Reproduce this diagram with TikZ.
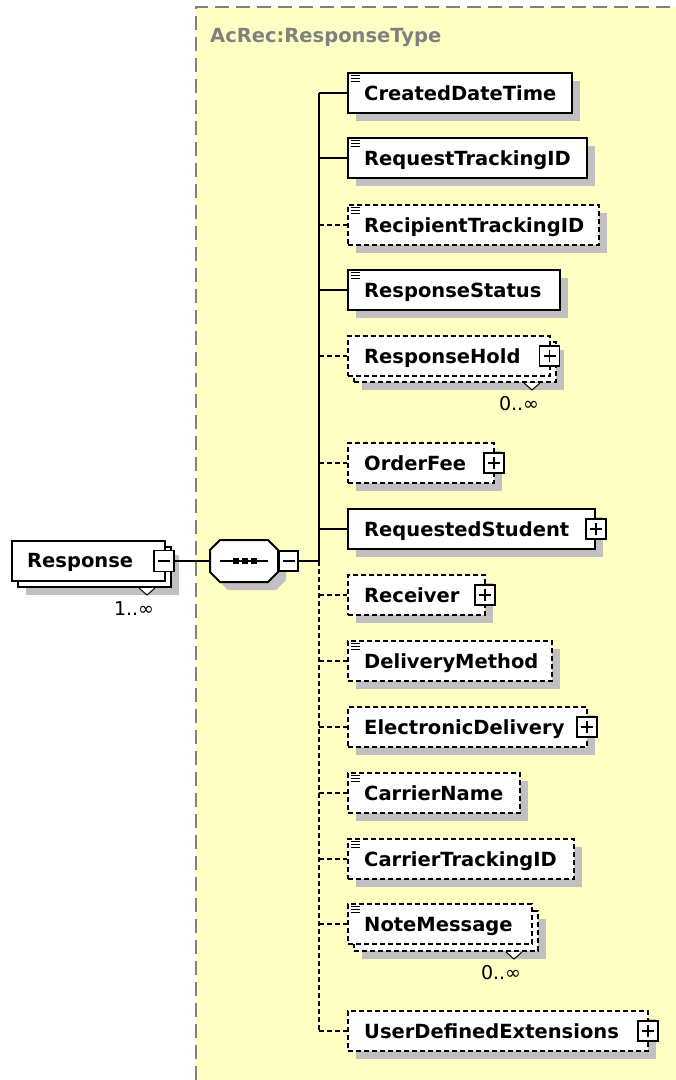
\documentclass[tikz,border=0pt]{standalone}
\usepackage{fontspec}
\setmainfont{DejaVu Sans}
\usetikzlibrary{shadows}
\definecolor{bgyellow}{RGB}{255,255,196}
\definecolor{shgray}{RGB}{192,192,192}
\definecolor{lblgray}{RGB}{128,128,128}
\tikzset{
  ebase/.style={rectangle, draw=black, fill=white, line width=2pt, inner sep=0pt},
  dashbox/.style={dash pattern=on 5pt off 3pt},
  shad/.style={drop shadow={shadow xshift=8pt, shadow yshift=-8pt, fill=shgray, opacity=1}},
  etext/.style={font=\fontsize{19.5}{22}\selectfont\bfseries, anchor=base west, inner sep=0pt},
  multtext/.style={font=\fontsize{19}{22}\selectfont, inner sep=0pt},
  pmbox/.style={rectangle, draw=black, fill=white, line width=1.6pt, minimum width=20pt, minimum height=20pt, inner sep=0pt},
  plusbox/.style={pmbox, path picture={\draw[line width=1.5pt]
      ([xshift=-6pt]path picture bounding box.center) -- ([xshift=6pt]path picture bounding box.center)
      ([yshift=-6pt]path picture bounding box.center) -- ([yshift=6pt]path picture bounding box.center);}},
  minusbox/.style={pmbox, path picture={\draw[line width=1.5pt]
      ([xshift=-6pt]path picture bounding box.center) -- ([xshift=6pt]path picture bounding box.center);}},
  conn/.style={line width=2pt},
  dconn/.style={conn, dash pattern=on 5pt off 3pt},
  ghost/.style={rectangle, inner sep=0pt},
}
% #1 name, #2 left, #3 top, #4 right, #5 bottom, #6 extra style
\newcommand\elbox[6]{%
  \node[ebase,#6,minimum width={(#4)-(#2)},minimum height={(#5)-(#3)}] (#1) at ({((#2)+(#4))/2},{((#3)+(#5))/2}) {};}
\newcommand\elicon[1]{%
  \draw[line width=1pt] ([xshift=4pt,yshift=-3.5pt]#1.north west) -- ++(9,0)
    ([xshift=4pt,yshift=-6.5pt]#1.north west) -- ++(9,0)
    ([xshift=4pt,yshift=-9.5pt]#1.north west) -- ++(9,0);}
\newcommand\eltext[2]{%
  \node[etext] (#1-t) at ([xshift=17pt,yshift=-7.3pt]#1.west) {#2};}
% #1 back node, #2 label name, #3 text
\newcommand\multmark[3]{%
  \filldraw[line width=1pt, fill=white] ([xshift=-33pt]#1.south east) -- ++(8,7) -- ++(8,-7);
  \node[multtext] (#2) at ([xshift=-38pt,yshift=-21pt]#1.south east) {#3};}
\begin{document}
\begin{tikzpicture}[x=1pt,y=-1pt]
\useasboundingbox (0,0) rectangle (676,1080);
\fill[white] (0,0) rectangle (676,1080);
% complex type background
\fill[bgyellow] (196,7) rectangle (676,1080);
\draw[lblgray, line width=2pt, dash pattern=on 14pt off 7pt] (196,1080) -- (196,7) -- (676,7);
\node[etext, text=lblgray] (title) at (210,42) {AcRec:ResponseType};

% Response element (1..inf)
\elbox{respb}{18}{547}{171}{587}{shad}
\elbox{resp}{12}{541}{165}{581}{}
\node[etext] (resp-t) at ([xshift=16pt,yshift=-6.8pt]resp.west) {Response};
\node[minusbox, minimum height=21pt] (rminus) at (164,561) {};
\multmark{respb}{respm}{1..∞}

% sequence compositor
\node[ghost, minimum width=68pt, minimum height=42pt] (seq) at (244,561) {};
\fill[shgray, shift={(8,8)}] (220,540) -- (268,540) -- (278,550) -- (278,572) -- (268,582) -- (220,582) -- (210,572) -- (210,550) -- cycle;
\filldraw[fill=white, draw=black, line width=2pt] (220,540) -- (268,540) -- (278,550) -- (278,572) -- (268,582) -- (220,582) -- (210,572) -- (210,550) -- cycle;
\draw[line width=1.5pt] (220,561) -- (268,561);
\foreach \sx in {236,245,254} \fill (\sx,561) +(-2.7,-2.7) rectangle +(2.7,2.7);
\node[minusbox, minimum width=19pt] (sminus) at (288.5,561) {};
\draw[conn] (rminus.east) -- (seq.west);

% trunk
\coordinate (tx) at (319,0);

% children
\elbox{cdt}{348}{73}{572}{113}{shad}
\elicon{cdt}\eltext{cdt}{CreatedDateTime}

\elbox{rtid}{348}{138}{587}{178}{shad}
\elicon{rtid}\eltext{rtid}{RequestTrackingID}

\elbox{rctid}{348}{205}{599}{245}{shad,dashbox}
\elicon{rctid}\eltext{rctid}{RecipientTrackingID}

\elbox{rst}{348}{270}{560}{310}{shad}
\elicon{rst}\eltext{rst}{ResponseStatus}

\elbox{rhb}{354}{342}{556}{382}{shad,dashbox}
\elbox{rh}{348}{336}{550}{376}{dashbox}
\eltext{rh}{ResponseHold}
\node[plusbox] (rh-p) at ([xshift=-1.5pt]rh.east) {};
\multmark{rhb}{rhm}{0..∞}

\elbox{of}{348}{443}{494}{483}{shad,dashbox}
\eltext{of}{OrderFee}
\node[plusbox] (of-p) at ([xshift=-1pt]of.east) {};

\elbox{rs}{348}{509}{595}{549}{shad}
\eltext{rs}{RequestedStudent}
\node[plusbox] (rs-p) at (rs.east) {};

\elbox{rcv}{348}{575}{485}{615}{shad,dashbox}
\eltext{rcv}{Receiver}
\node[plusbox] (rcv-p) at ([xshift=-1pt]rcv.east) {};

\elbox{dm}{348}{641}{552}{681}{shad,dashbox}
\elicon{dm}\eltext{dm}{DeliveryMethod}

\elbox{ed}{348}{707}{587}{747}{shad,dashbox}
\eltext{ed}{ElectronicDelivery}
\node[plusbox] (ed-p) at ([xshift=-1pt]ed.east) {};

\elbox{cn}{348}{773}{520}{813}{shad,dashbox}
\elicon{cn}\eltext{cn}{CarrierName}

\elbox{ctid}{348}{839}{574}{879}{shad,dashbox}
\elicon{ctid}\eltext{ctid}{CarrierTrackingID}

\elbox{nmb}{354}{911}{538}{951}{shad,dashbox}
\elbox{nm}{348}{904}{532}{944}{dashbox}
\elicon{nm}\eltext{nm}{NoteMessage}
\multmark{nmb}{nmm}{0..∞}

\elbox{ude}{348}{1011}{648}{1051}{shad,dashbox}
\eltext{ude}{UserDefinedExtensions}
\node[plusbox] (ude-p) at ([xshift=-1pt]ude.east) {};

% connectors
\draw[conn] (sminus.east) -- (tx |- sminus.east);
\draw[conn] (tx |- cdt.west) -- (tx |- sminus.east);
\draw[dconn] (tx |- sminus.east) -- (tx |- ude.west);
\foreach \n in {cdt,rtid,rst,rs} \draw[conn] (tx |- \n.west) -- (\n.west);
\foreach \n in {rctid,rh,of,rcv,dm,ed,cn,ctid,nm,ude} \draw[dconn] (tx |- \n.west) -- (\n.west);
\end{tikzpicture}
\end{document}
